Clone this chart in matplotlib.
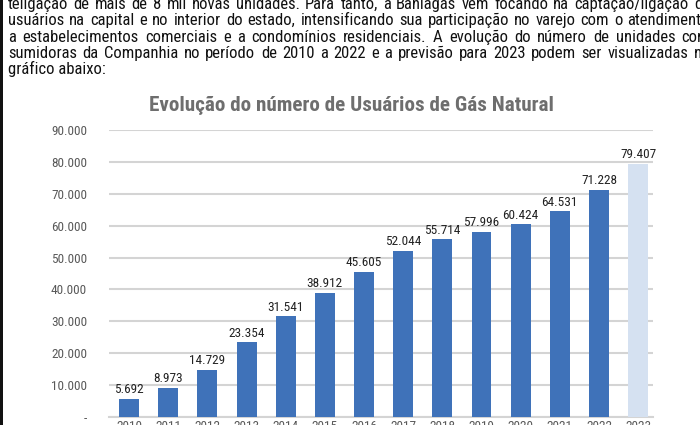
import matplotlib.pyplot as plt
from matplotlib.patches import Rectangle

# dados do grafico
anos = ['2010', '2011', '2012', '2013', '2014', '2015', '2016',
        '2017', '2018', '2019', '2020', '2021', '2022', '2023']
usuarios = [5692, 8973, 14729, 23354, 31541, 38912, 45605,
            52044, 55714, 57996, 60424, 64531, 71228, 79407]
y_ticks = [0, 10000, 20000, 30000, 40000, 50000, 60000, 70000, 80000, 90000]
titulo = 'Evolução do número de Usuários de Gás Natural'

texto = [
    'teligação de mais de 8 mil novas unidades. Para tanto, a Bahiagás vem focando na captação/ligação de',
    'usuários na capital e no interior do estado, intensificando sua participação no varejo com o atendimento',
    'a estabelecimentos comerciais e a condomínios residenciais. A evolução do número de unidades con-',
    'sumidoras da Companhia no período de 2010 a 2022 e a previsão para 2023 podem ser visualizadas no',
    'gráfico abaixo:',
]

def fmt(v):
    return f'{v:,}'.replace(',', '.')

plt.rcParams['font.family'] = ['Roboto Condensed', 'Liberation Sans', 'DejaVu Sans']

fig = plt.figure(figsize=(7, 4.25), dpi=100)
fig.patch.set_facecolor('white')
renderer = fig.canvas.get_renderer()

# borda preta da pagina
fig.patches.append(Rectangle((0, 0), 3 / 700, 1, transform=fig.transFigure,
                             facecolor='#111111', edgecolor='none'))

fs_texto = 12

def largura(s):
    t = fig.text(0, 0, s, fontsize=fs_texto)
    w = t.get_window_extent(renderer).width
    t.remove()
    return w

# texto do documento, justificado (a margem direita fica fora da imagem)
x_ini, x_fim = 8, 710
y0 = 9
for i, linha in enumerate(texto):
    y = 1 - (y0 + i * 16.3) / 425
    palavras = linha.split(' ')
    if i == len(texto) - 1:
        fig.text(x_ini / 700, y, linha, fontsize=fs_texto, color='#111111',
                 ha='left', va='baseline')
        continue
    inicios = [0]
    for k in range(1, len(palavras)):
        w = largura(' '.join(palavras[:k + 1])) - largura(palavras[k])
        inicios.append(w)
    total = largura(linha)
    extra = (x_fim - x_ini - total) / (len(palavras) - 1)
    for k, p in enumerate(palavras):
        fig.text((x_ini + inicios[k] + k * extra) / 700, y, p, fontsize=fs_texto,
                 color='#111111', ha='left', va='baseline')

fig.text(351 / 700, 1 - 111 / 425, titulo, fontsize=15.2, fontweight='bold',
         color='#6e6e6e', ha='center', va='baseline')

ax = fig.add_axes([108.7 / 700, 8.3 / 425, (653 - 108.7) / 700, (416.7 - 130.3) / 425])

cores = ['#3f72b9'] * (len(anos) - 1) + ['#d5e1f1']
x = list(range(len(anos)))
barras = ax.bar(x, usuarios, width=0.51, color=cores, zorder=3)
ax.bar_label(barras, labels=[fmt(v) for v in usuarios], padding=2,
             fontsize=9.5, color='#222222')

ax.set_ylim(0, 90000)
ax.set_xlim(-0.52, len(anos) - 1 + 0.38)
ax.set_yticks(y_ticks)
ax.set_yticklabels(['-'] + [fmt(v) for v in y_ticks[1:]])
ax.set_xticks(x)
ax.set_xticklabels(anos)
ax.tick_params(axis='both', length=0, labelsize=9.5, labelcolor='#595959')
ax.tick_params(axis='y', pad=15.5)
ax.tick_params(axis='x', pad=2.2)

ax.grid(axis='y', color='#d4d4d4', linewidth=1.5, zorder=0)
for s in ['top', 'right', 'left']:
    ax.spines[s].set_visible(False)
ax.spines['bottom'].set_color('#d4d4d4')
ax.spines['bottom'].set_linewidth(1.5)
ax.set_facecolor('none')

fig.savefig('out.png', dpi=100)
